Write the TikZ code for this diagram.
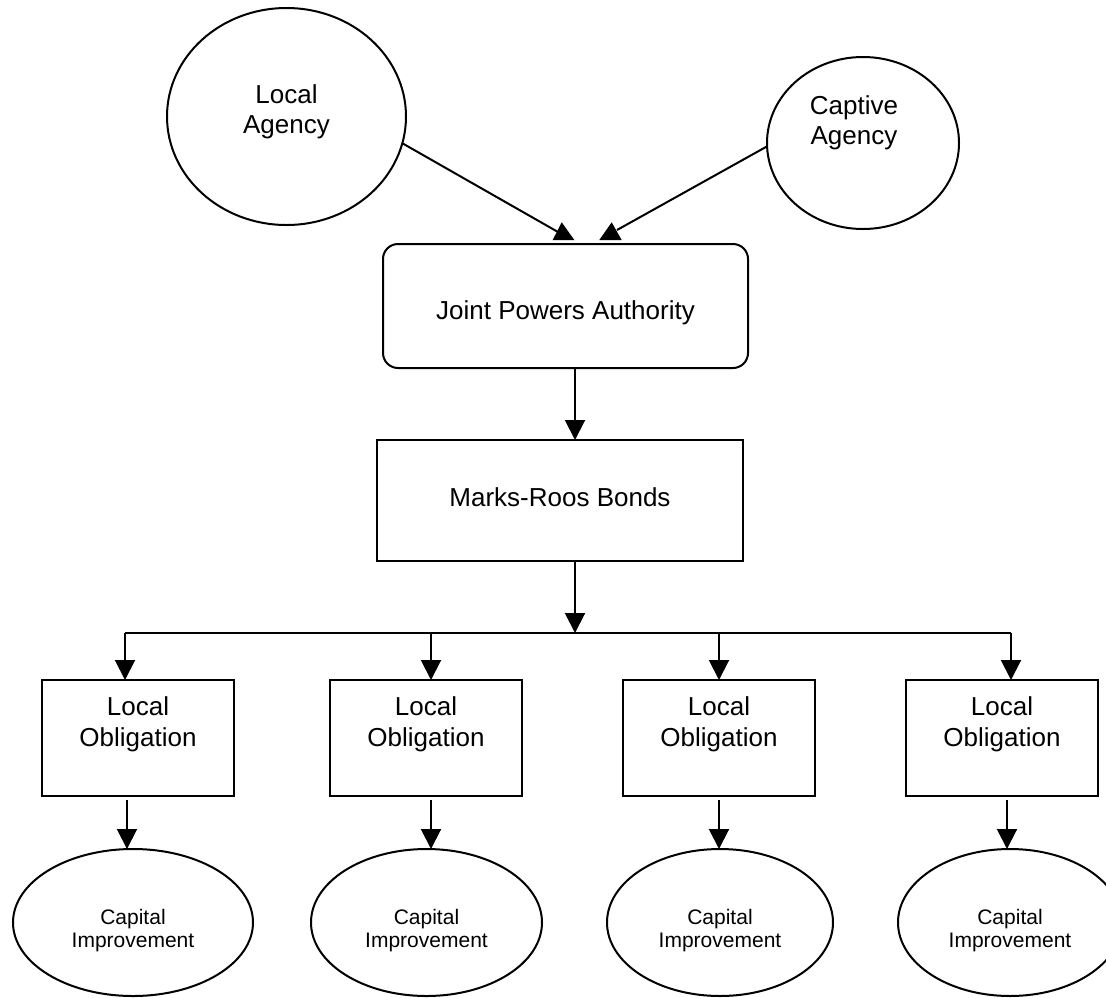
\documentclass[tikz,border=0pt]{standalone}
\usepackage{fontspec}
\setmainfont{Liberation Sans}
\usetikzlibrary{arrows.meta,shapes.geometric}
\begin{document}
\begin{tikzpicture}[x=1pt,y=-1pt,
  lw/.style={line width=2pt},
  arr/.style={line width=2pt,-{Triangle[width=20pt,length=20pt]}},
  ell/.style={ellipse,draw,line width=2pt,inner sep=0pt,outer sep=0pt},
  box/.style={rectangle,draw,line width=2pt,inner sep=0pt,outer sep=0pt},
  big/.style={font=\fontsize{26}{30}\selectfont,align=center,inner sep=0pt},
  lob/.style={font=\fontsize{26}{31}\selectfont,align=center,inner sep=0pt},
  small/.style={font=\fontsize{21}{23}\selectfont,align=center,inner sep=0pt},
  lobox/.style={box,minimum width=192pt,minimum height=116pt,
    label={[lob,yshift=14pt]center:{Local\\Obligation}}},
  ciell/.style={ell,minimum height=147pt,
    label={[small,yshift=-8pt]center:{Capital\\Improvement}}}]
\useasboundingbox (0,0) rectangle (1106,997);
\clip (0,0) rectangle (1106,997);

% top agencies
\node[ell,minimum width=239pt,minimum height=217pt,
  label={[big,yshift=5pt]center:{Local\\Agency}}] (la) at (286.5,116.5) {};
\node[ell,minimum width=192pt,minimum height=172pt,
  label={[big,xshift=-9pt,yshift=20pt]center:{Captive\\Agency}}] (ca) at (863,143) {};

% central boxes
\node[box,rounded corners=15pt,minimum width=365pt,minimum height=124pt,
  label={[big,yshift=-7pt]center:{Joint Powers Authority}}] (jpa) at (565.5,306) {};
\node[box,minimum width=366pt,minimum height=121pt,
  label={[big,yshift=3pt]center:{Marks-Roos Bonds}}] (mrb) at (560,500.5) {};

% local obligations
\node[lobox] (lo1) at (138,738) {};
\node[lobox] (lo2) at (426,738) {};
\node[lobox] (lo3) at (719,738) {};
\node[lobox] (lo4) at (1002,738) {};

% capital improvements
\node[ciell,minimum width=240pt] (ci1) at (133,922.5) {};
\node[ciell,minimum width=231pt] (ci2) at (426.5,922.5) {};
\node[ciell,minimum width=226pt] (ci3) at (720,922.5) {};
\node[ciell,minimum width=224pt] (ci4) at (1010,922.5) {};

% top connectors with upright triangle heads
\coordinate (t1) at (558,232);
\coordinate (t2) at (617,230);
\draw[lw] (la.-13) -- (t1);
\draw[lw] (ca.182) -- (t2);
\fill ([shift={(-5.3,8)}]t1) -- ([shift={(16.3,8)}]t1) -- ([shift={(3.7,-9.7)}]t1) -- cycle;
\fill ([shift={(-17.7,10)}]t2) -- ([shift={(4.7,10)}]t2) -- ([shift={(-5.3,-7.7)}]t2) -- cycle;

% trunk
\coordinate (bus) at (575,633);
\draw[arr] (jpa.south -| bus) -- (mrb.north -| bus);
\draw[arr] (mrb.south -| bus) -- (bus);

% bus and branches
\coordinate (b1) at (125,633);
\coordinate (b2) at (431,633);
\coordinate (b3) at (719,633);
\coordinate (b4) at (1011,633);
\draw[lw] (b1) -- (b4);
\draw[arr] (b1) -- (b1 |- lo1.north);
\draw[arr] (b2) -- (b2 |- lo2.north);
\draw[arr] (b3) -- (b3 |- lo3.north);
\draw[arr] (b4) -- (b4 |- lo4.north);

% obligation to improvement
\coordinate (k1) at (127,0);
\coordinate (k2) at (431,0);
\coordinate (k3) at (719,0);
\coordinate (k4) at (1007,0);
\draw[arr,shorten <=4pt] (lo1.south -| k1) -- (ci1.north -| k1);
\draw[arr,shorten <=4pt] (lo2.south -| k2) -- (ci2.north -| k2);
\draw[arr,shorten <=4pt] (lo3.south -| k3) -- (ci3.north -| k3);
\draw[arr,shorten <=4pt] (lo4.south -| k4) -- (ci4.north -| k4);
\end{tikzpicture}
\end{document}
